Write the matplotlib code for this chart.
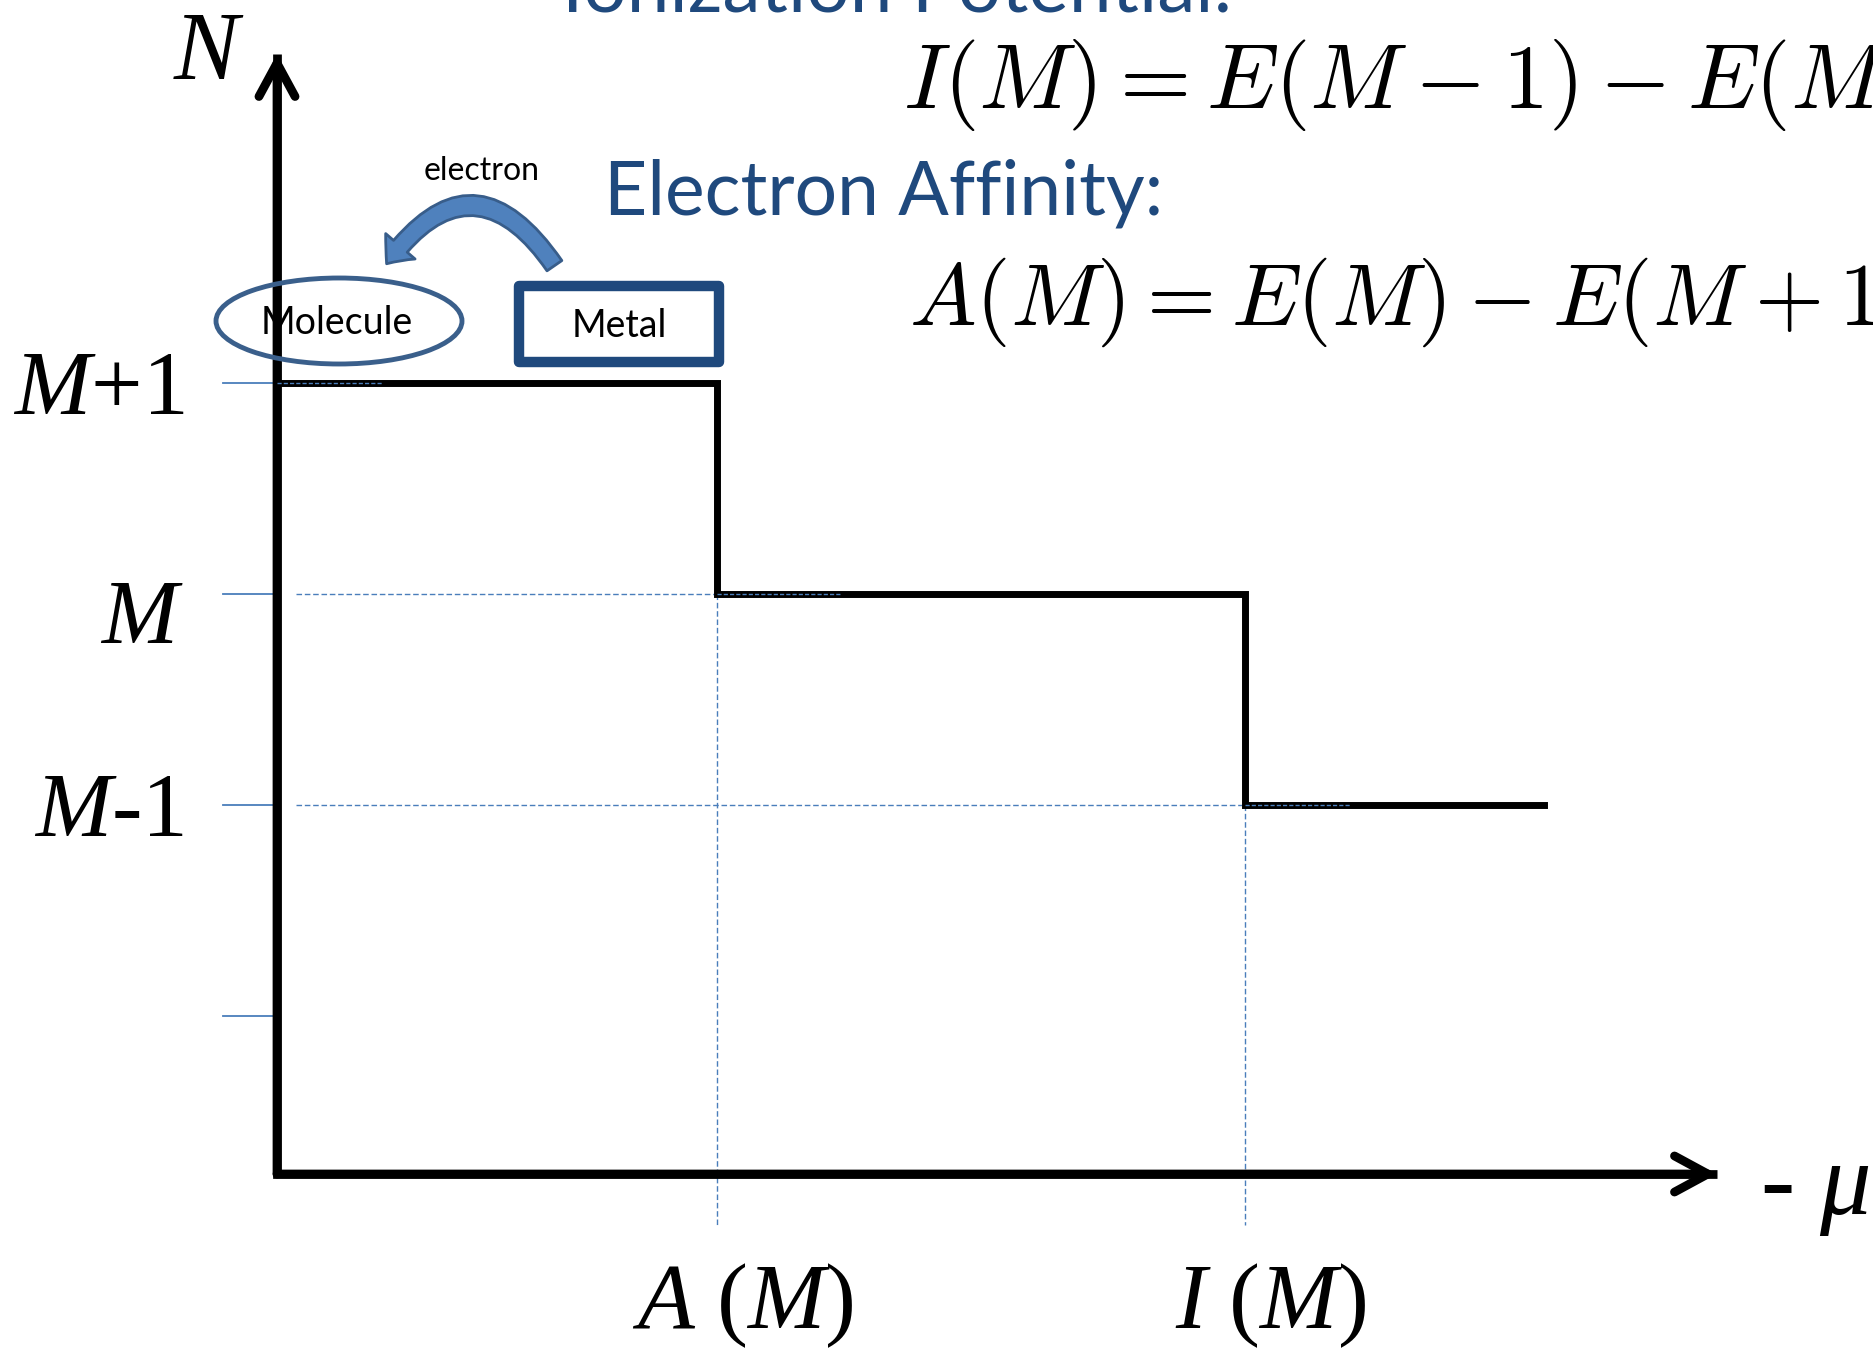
import matplotlib
matplotlib.use('Agg')
import matplotlib.pyplot as plt
from matplotlib.patches import Ellipse, Rectangle, FancyArrowPatch

# step function N(-mu): electron number levels vs. minus chemical potential
mu_steps = [0.0, 1.0, 1.0, 2.2, 2.2, 2.88]
n_steps = [3, 3, 2, 2, 1, 1]
tick_levels = [0, 1, 2, 3]
level_labels = ['', r'$M$-1', r'$M$', r'$M$+1']
mu_marks = [1.0, 2.2]          # A(M), I(M)
mu_mark_levels = [2, 1]
mu_labels = [r'$A\ (M)$', r'$I\ (M)$']

# layout: pixel position of the axis corner and pixels per unit
X0, Y0, SX, SY = 277, 1174, 440, 211
x_axis_y = -0.75


def px(x, y):
    return (x - X0) / SX, x_axis_y + (Y0 - y) / SY


plt.rcParams['mathtext.fontset'] = 'custom'
plt.rcParams['mathtext.it'] = 'Liberation Serif:italic'
plt.rcParams['mathtext.rm'] = 'Liberation Serif'

blue_txt = '#1F497D'
guide = '#4A7EBB'
serif = 'Liberation Serif'
sans = 'Lato'

fig = plt.figure(figsize=(18.74, 13.48), dpi=100)
ax = fig.add_axes([0, 0, 1, 1])
ax.set_xlim(px(0, 0)[0], px(1874, 0)[0])
ax.set_ylim(px(0, 1348)[1], px(0, 0)[1])
ax.axis('off')

# axes with open arrow heads
y_top = px(0, 54)[1]
x_end = px(1717, 0)[0]
ax.plot([0, 0, x_end], [y_top, x_axis_y, x_axis_y], color='black', lw=6.3,
        solid_joinstyle='miter', solid_capstyle='butt', zorder=3)
for tip in [(0, y_top), (x_end, x_axis_y)]:
    ax.annotate('', xy=tip, xytext=(0, x_axis_y),
                arrowprops=dict(arrowstyle='->,head_length=2.4,head_width=1.3',
                                mutation_scale=10, lw=6.3, color='black',
                                shrinkA=0, shrinkB=0, capstyle='round',
                                joinstyle='round'), zorder=3)

# tick marks and level labels
tick_x0 = px(223, 0)[0]
label_shift = [0, 0, -0.085, 0]
for lev, lab, sh in zip(tick_levels, level_labels, label_shift):
    ax.plot([tick_x0, 0], [lev, lev], color=guide, lw=1.3, zorder=2)
    if lab:
        ax.text(px(184, 0)[0], lev - 0.148 + sh, lab, fontsize=66,
                family=serif, math_fontfamily='custom',
                ha='right', va='baseline')

# dashed guide lines
gx0 = px(296, 0)[0]
gy_bot = px(0, 1225)[1]
for m, lev in zip(mu_marks, mu_mark_levels):
    ax.plot([gx0, m], [lev, lev], color=guide, lw=1.0, ls=(0, (4, 2)), zorder=2)
    ax.plot([m, m], [lev, gy_bot], color=guide, lw=1.0, ls=(0, (4, 2)), zorder=2)

# the step curve
ax.plot(mu_steps, n_steps, color='black', lw=5.0, solid_joinstyle='miter',
        zorder=4)

# faint dashed marks sitting on the plateaus
for xs, lev in [((0, 0.24), 3), ((1.0, 1.28), 2), ((2.2, 2.44), 1)]:
    ax.plot(xs, [lev, lev], color=guide, lw=1.0, ls=(0, (3, 1.5)), zorder=5)

# x labels
for m, lab in zip(mu_marks, mu_labels):
    ax.text(m + 26 / SX, px(0, 1328)[1], lab, fontsize=67, family=serif,
            math_fontfamily='custom', ha='center', va='baseline')

ax.text(*px(209, 79), r'$N$', fontsize=70, family=serif,
        math_fontfamily='custom', ha='center', va='baseline')
ax.text(*px(1760, 1214), r'- $\mu$', fontsize=74, family=serif,
        math_fontfamily='custom', ha='left', va='baseline')

# titles and formulas
ax.text(*px(562, 11), 'Ionization Potential:', fontsize=55, family=sans,
        color=blue_txt, ha='left', va='baseline')
ax.text(*px(604, 215), 'Electron Affinity:', fontsize=54, family=sans,
        color=blue_txt, ha='left', va='baseline')
ax.text(*px(903, 108), r'$I(M) = E(M-1) - E(M)$',
        fontsize=66, math_fontfamily='cm', ha='left', va='baseline')
ax.text(*px(909, 325), r'$A(M) = E(M) - E(M+1)$',
        fontsize=64, math_fontfamily='cm', ha='left', va='baseline')

# molecule / metal cartoon
ec = '#3A5F8B'
cx, cy = px(339, 321)
ax.add_patch(Ellipse((cx, cy), 246 / SX, 86 / SY, fill=False, ec=ec,
                     lw=3.5, zorder=6))
ax.text(*px(337, 323), 'Molecule', fontsize=27, family=sans,
        ha='center', va='center', zorder=7)

bx0, by0 = px(519, 362)
ax.add_patch(Rectangle((bx0, by0), 200 / SX, 76 / SY, fill=True, fc='white',
                       ec=blue_txt, lw=7.5, joinstyle='round', zorder=6))
ax.text(*px(619, 326), 'Metal', fontsize=27, family=sans,
        ha='center', va='center', zorder=7)

ax.add_patch(FancyArrowPatch(px(556, 268), px(385, 266),
                             connectionstyle='arc3,rad=0.72',
                             arrowstyle='simple,head_length=16,head_width=28,tail_width=13',
                             mutation_scale=1, fc='#4F81BD', ec='#385D8A',
                             lw=2, zorder=6))
ax.text(*px(482, 171), 'electron', fontsize=23, family=sans,
        ha='center', va='center')

fig.savefig('out.png', dpi=100)
